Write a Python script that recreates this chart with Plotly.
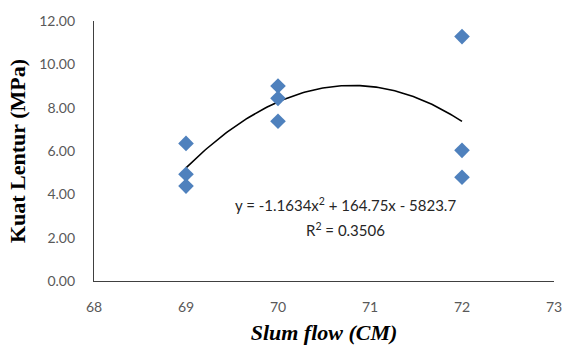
import numpy as np
import plotly.graph_objects as go

# Measured data: slump flow (cm) vs flexural strength (MPa)
slump_flow = [69, 69, 69, 70, 70, 70, 72, 72, 72]
kuat_lentur = [6.35, 4.93, 4.38, 9.00, 8.43, 7.37, 11.28, 6.03, 4.79]

x_ticks = [68, 69, 70, 71, 72, 73]
y_ticks = [0, 2, 4, 6, 8, 10, 12]

eq_text = "y = -1.1634x<sup>2</sup> + 164.75x - 5823.7"
r2_text = "R<sup>2</sup> = 0.3506"

# Second-order polynomial trendline over the data range
coef = np.polyfit(slump_flow, kuat_lentur, 2)
xs = np.linspace(min(slump_flow), max(slump_flow), 120)
ys = np.polyval(coef, xs)

fig = go.Figure()
fig.add_trace(go.Scatter(
    x=xs, y=ys, mode="lines",
    line=dict(color="black", width=1.6),
    hoverinfo="skip", showlegend=False,
))
fig.add_trace(go.Scatter(
    x=slump_flow, y=kuat_lentur, mode="markers",
    marker=dict(symbol="diamond", size=12, color="#4F81BD"),
    showlegend=False,
))

label_font = dict(family="Lato, Carlito, sans-serif", size=15, color="#262626")
fig.add_annotation(x=70.73, y=3.55, text=eq_text, showarrow=False, font=label_font)
fig.add_annotation(x=70.73, y=2.4, text=r2_text, showarrow=False, font=label_font)

tick_font = dict(family="Lato, Carlito, sans-serif", size=14, color="#595959")
title_font = dict(family="Liberation Serif, Times New Roman, serif", size=22, color="black")

fig.update_layout(
    width=574, height=352,
    margin=dict(l=94, r=16, t=20, b=69),
    paper_bgcolor="white", plot_bgcolor="white",
    xaxis=dict(
        range=[68, 73], tickvals=x_ticks, ticktext=[str(v) for v in x_ticks],
        showgrid=False, zeroline=False, showline=True, linecolor="#404040", linewidth=1.3,
        ticks="", tickfont=tick_font, ticklabelstandoff=13,
        title=dict(text="<b><i>Slum flow (CM)</i></b>", standoff=10, font=title_font),
    ),
    yaxis=dict(
        range=[0, 12], tickvals=y_ticks, ticktext=[f"{v:.2f}" for v in y_ticks],
        showgrid=False, zeroline=False, showline=True, linecolor="#404040", linewidth=1.3,
        ticks="", tickfont=tick_font, ticklabelstandoff=15,
        title=dict(text="<b>Kuat Lentur (MPa)</b>", standoff=7, font=title_font),
    ),
)

fig.write_html("out.html")
